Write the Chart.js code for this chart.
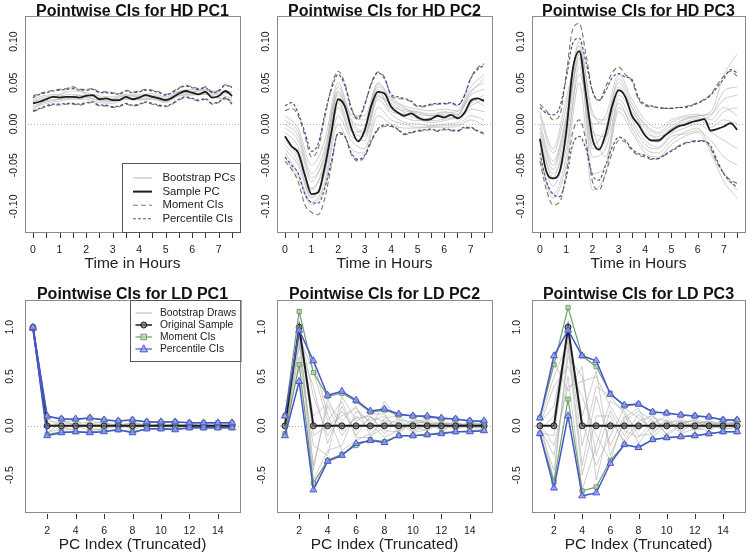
<!DOCTYPE html>
<html>
<head>
<meta charset="utf-8">
<script src="https://cdn.jsdelivr.net/npm/chart.js@4.4.1/dist/chart.umd.min.js"></script>
<style>
  html, body { margin: 0; padding: 0; background: #fff; }
  #wrap { position: relative; width: 750px; height: 557px; overflow: hidden; }
  #wrap canvas { position: absolute; }
</style>
</head>
<body>
<div id="wrap">
  <canvas id="c1" width="250" height="280" style="left:0;top:0"></canvas>
  <canvas id="c2" width="250" height="280" style="left:250px;top:0"></canvas>
  <canvas id="c3" width="250" height="280" style="left:500px;top:0"></canvas>
  <canvas id="c4" width="250" height="277" style="left:0;top:280px"></canvas>
  <canvas id="c5" width="250" height="277" style="left:250px;top:280px"></canvas>
  <canvas id="c6" width="250" height="277" style="left:500px;top:280px"></canvas>
</div>
<script>
// ===============================
// 1. data: HD panels (time in hours)
// ===============================
const HD_T = [0, 0.25, 0.5, 0.75, 1, 1.25, 1.5, 1.75, 2, 2.25, 2.5, 2.75, 3, 3.25, 3.5, 3.75,
  4, 4.25, 4.5, 4.75, 5, 5.25, 5.5, 5.75, 6, 6.25, 6.5, 6.75, 7, 7.25, 7.5];
const HD_T2 = [0, 0.5, 1, 1.5, 2, 2.5, 3, 3.5, 4, 4.5, 5, 5.5, 6, 6.5, 7, 7.5];
const HD_XTICKS = [0, 0.5, 1, 1.5, 2, 2.5, 3, 3.5, 4, 4.5, 5, 5.5, 6, 6.5, 7, 7.5];
const HD_XLABELS = [0, 1, 2, 3, 4, 5, 6, 7];
const HD_YTICKS = [-0.10, -0.05, 0, 0.05, 0.10];
const HD_YLABELS = ["-0.10", "-0.05", "0.00", "0.05", "0.10"];

// HD PC1
const hd1Sample = [0.025,0.027,0.030,0.033,0.032,0.033,0.033,0.032,0.034,0.035,0.030,0.031,0.029,0.029,0.033,0.030,
  0.032,0.035,0.033,0.031,0.029,0.032,0.037,0.040,0.038,0.036,0.039,0.032,0.034,0.040,0.034];
const hd1PctUp = [0.032,0.036,0.038,0.040,0.041,0.042,0.043,0.041,0.041,0.042,0.038,0.038,0.037,0.036,0.040,0.038,
  0.039,0.041,0.040,0.038,0.035,0.038,0.043,0.046,0.044,0.042,0.044,0.038,0.040,0.047,0.044];
const hd1PctLo = [0.016,0.019,0.022,0.024,0.024,0.025,0.025,0.024,0.026,0.027,0.023,0.023,0.021,0.022,0.025,0.023,
  0.024,0.027,0.025,0.023,0.022,0.025,0.030,0.033,0.031,0.029,0.031,0.025,0.027,0.032,0.025];
const hd1MomUp = [0.034,0.037,0.039,0.041,0.042,0.043,0.045,0.042,0.042,0.043,0.039,0.039,0.038,0.037,0.041,0.039,
  0.040,0.042,0.041,0.039,0.036,0.039,0.044,0.047,0.045,0.043,0.045,0.039,0.041,0.048,0.045];
const hd1MomLo = [0.015,0.018,0.021,0.023,0.023,0.024,0.024,0.023,0.025,0.026,0.022,0.022,0.020,0.021,0.024,0.022,
  0.023,0.026,0.024,0.022,0.021,0.024,0.029,0.032,0.030,0.028,0.030,0.024,0.026,0.031,0.024];
const hd1Boot = [
  [0.030,0.035,0.036,0.040,0.038,0.034,0.033,0.036,0.036,0.037,0.033,0.040,0.042,0.042,0.038,0.040],
  [0.020,0.025,0.028,0.030,0.030,0.026,0.025,0.030,0.029,0.030,0.026,0.034,0.035,0.036,0.031,0.030],
  [0.028,0.033,0.035,0.045,0.036,0.032,0.031,0.035,0.034,0.035,0.031,0.039,0.040,0.041,0.036,0.038],
  [0.022,0.027,0.030,0.031,0.032,0.028,0.027,0.031,0.030,0.031,0.027,0.035,0.036,0.037,0.032,0.028],
  [0.018,0.028,0.030,0.034,0.035,0.031,0.030,0.034,0.033,0.034,0.030,0.038,0.037,0.038,0.035,0.032],
  [0.027,0.031,0.034,0.036,0.033,0.029,0.028,0.032,0.031,0.032,0.028,0.036,0.039,0.040,0.040,0.036]
];

// HD PC2
const hd2Sample = [-0.015,-0.027,-0.035,-0.062,-0.085,-0.083,-0.052,-0.010,0.030,0.022,-0.005,-0.021,-0.008,0.022,0.039,0.037,
  0.021,0.014,0.010,0.013,0.008,0.005,0.006,0.010,0.008,0.011,0.007,0.013,0.028,0.031,0.028];
const hd2PctUp = [0.022,0.026,0.013,-0.010,-0.033,-0.024,0.012,0.042,0.060,0.047,0.018,0.007,0.024,0.048,0.062,0.055,
  0.036,0.033,0.031,0.028,0.022,0.022,0.024,0.025,0.025,0.026,0.023,0.033,0.055,0.066,0.071];
const hd2PctLo = [-0.040,-0.050,-0.060,-0.085,-0.095,-0.096,-0.078,-0.045,-0.012,-0.015,-0.035,-0.043,-0.038,-0.020,-0.006,-0.001,
  -0.002,-0.006,-0.012,-0.010,-0.008,-0.007,-0.006,-0.008,-0.006,-0.007,-0.008,-0.004,-0.004,-0.008,-0.011];
const hd2MomUp = [0.016,0.019,0.010,-0.014,-0.040,-0.030,0.008,0.045,0.064,0.050,0.020,0.005,0.022,0.050,0.063,0.057,
  0.034,0.031,0.030,0.027,0.021,0.021,0.023,0.024,0.024,0.025,0.022,0.034,0.056,0.068,0.073];
const hd2MomLo = [-0.045,-0.055,-0.070,-0.098,-0.107,-0.110,-0.090,-0.050,-0.010,-0.014,-0.037,-0.045,-0.040,-0.022,-0.007,-0.003,
  -0.003,-0.007,-0.013,-0.011,-0.009,-0.008,-0.007,-0.009,-0.007,-0.008,-0.009,-0.005,-0.005,-0.009,-0.012];
const hd2Boot = [
  [-0.005,-0.020,-0.070,-0.035,0.045,0.010,0.005,0.045,0.028,0.018,0.015,0.012,0.015,0.012,0.040,0.050],
  [-0.030,-0.050,-0.090,-0.060,0.020,-0.015,-0.020,0.030,0.012,0.002,0.000,-0.002,0.000,0.002,0.018,0.015],
  [0.005,-0.010,-0.060,-0.030,0.040,0.005,-0.002,0.048,0.030,0.020,0.012,0.010,0.014,0.015,0.045,0.060],
  [-0.035,-0.060,-0.095,-0.070,0.010,-0.020,-0.030,0.020,0.005,0.000,-0.004,-0.003,-0.002,-0.001,0.010,0.005],
  [-0.010,-0.028,-0.080,-0.045,0.035,0.000,-0.012,0.035,0.018,0.008,0.004,0.008,0.010,0.006,0.025,0.035],
  [-0.020,-0.040,-0.078,-0.050,0.028,-0.008,-0.015,0.033,0.025,0.014,0.010,0.004,0.006,0.010,0.030,0.022],
  [0.010,-0.005,-0.050,-0.020,0.050,0.012,0.010,0.050,0.032,0.022,0.018,0.016,0.018,0.016,0.038,0.055],
  [-0.040,-0.065,-0.098,-0.075,0.000,-0.030,-0.035,0.010,0.000,-0.005,-0.005,-0.004,-0.004,-0.003,0.005,-0.002],
  [-0.025,-0.045,-0.088,-0.058,0.025,-0.010,-0.005,0.042,0.015,0.012,0.006,0.002,0.004,0.009,0.022,0.030],
  [0.000,-0.015,-0.065,-0.040,0.038,0.004,-0.010,0.038,0.022,0.016,0.014,0.010,0.012,0.011,0.035,0.042]
];

// HD PC3
const hd3Sample = [-0.018,-0.058,-0.066,-0.058,-0.010,0.066,0.088,0.037,-0.018,-0.031,-0.012,0.022,0.041,0.033,0.010,-0.001,
  -0.014,-0.020,-0.020,-0.014,-0.008,-0.003,-0.001,0.002,0.004,0.006,-0.008,-0.006,-0.003,0.001,-0.007];
const hd3PctUp = [0.020,0.013,0.011,0.020,0.055,0.098,0.104,0.075,0.040,0.029,0.040,0.056,0.061,0.057,0.054,0.032,
  0.024,0.022,0.020,0.019,0.019,0.020,0.020,0.022,0.025,0.029,0.035,0.045,0.055,0.066,0.062];
const hd3PctLo = [-0.035,-0.070,-0.085,-0.088,-0.065,-0.025,-0.015,-0.030,-0.062,-0.068,-0.050,-0.028,-0.016,-0.020,-0.030,-0.036,
  -0.038,-0.042,-0.042,-0.037,-0.033,-0.028,-0.024,-0.022,-0.021,-0.021,-0.027,-0.045,-0.061,-0.070,-0.077];
const hd3MomUp = [0.024,0.016,0.005,0.010,0.060,0.115,0.122,0.085,0.040,0.028,0.045,0.062,0.069,0.060,0.052,0.030,
  0.022,0.021,0.020,0.019,0.019,0.020,0.021,0.023,0.026,0.030,0.036,0.048,0.058,0.064,0.058];
const hd3MomLo = [-0.045,-0.080,-0.098,-0.095,-0.060,-0.010,0.005,-0.020,-0.070,-0.080,-0.060,-0.035,-0.020,-0.022,-0.032,-0.038,
  -0.040,-0.043,-0.042,-0.038,-0.032,-0.027,-0.023,-0.021,-0.020,-0.020,-0.030,-0.048,-0.060,-0.068,-0.072];
const hd3Boot = [
  [0.000,-0.045,0.010,0.100,0.010,0.005,0.055,0.025,0.000,-0.010,0.002,0.008,0.010,0.015,0.060,0.085],
  [-0.040,-0.085,-0.040,0.070,-0.040,-0.030,0.025,-0.005,-0.030,-0.035,-0.020,-0.010,-0.005,-0.030,-0.060,-0.080],
  [-0.010,-0.055,0.000,0.080,-0.025,-0.005,0.050,0.020,-0.010,-0.015,-0.005,0.005,0.008,0.000,0.015,0.020],
  [-0.030,-0.075,-0.030,0.060,-0.005,-0.040,0.020,0.000,-0.025,-0.030,-0.015,-0.012,-0.008,-0.020,-0.040,-0.050],
  [0.010,-0.035,0.020,0.095,-0.030,-0.020,0.035,0.015,-0.005,-0.018,-0.010,0.000,0.005,0.010,0.040,0.045],
  [-0.025,-0.060,-0.020,0.085,-0.060,-0.050,0.030,0.005,-0.020,-0.028,-0.012,-0.005,0.000,-0.010,-0.020,-0.030],
  [-0.005,-0.050,0.005,0.075,0.000,0.010,0.060,0.030,0.005,-0.005,0.005,0.010,0.012,0.005,0.020,0.010],
  [-0.045,-0.090,-0.050,0.050,-0.080,-0.060,0.015,-0.010,-0.035,-0.040,-0.025,-0.015,-0.010,-0.035,-0.070,-0.090],
  [-0.015,-0.065,-0.005,0.090,-0.010,-0.015,0.045,0.012,-0.012,-0.022,-0.006,0.002,0.006,-0.004,0.005,0.000],
  [0.015,-0.030,0.030,0.090,0.015,0.000,0.040,0.020,-0.002,-0.012,-0.002,0.006,0.010,0.012,0.030,0.035]
];

// ===============================
// 2. data: LD panels (PC index)
// ===============================
const LD_X = [1, 2, 3, 4, 5, 6, 7, 8, 9, 10, 11, 12, 13, 14, 15];
const LD_XTICKS = [2, 4, 6, 8, 10, 12, 14];
const LD_YTICKS = [-0.5, 0, 0.5, 1.0];
const LD_YLABELS = ["-0.5", "0.0", "0.5", "1.0"];

const ld1Sample = [1, 0, 0, 0, 0, 0, 0, 0, 0, 0, 0, 0, 0, 0, 0];
const ld1PctUp = [1.00,0.10,0.07,0.07,0.08,0.06,0.05,0.06,0.04,0.04,0.04,0.03,0.03,0.03,0.03];
const ld1PctLo = [0.99,-0.10,-0.07,-0.06,-0.07,-0.06,-0.04,-0.07,-0.03,-0.03,-0.04,-0.02,-0.02,-0.02,-0.02];
const ld1MomUp = [1.00,0.09,0.07,0.06,0.08,0.06,0.05,0.06,0.04,0.04,0.04,0.03,0.03,0.03,0.03];
const ld1MomLo = [0.99,-0.09,-0.06,-0.06,-0.06,-0.05,-0.04,-0.06,-0.03,-0.03,-0.03,-0.02,-0.02,-0.02,-0.02];
const ld1Boot = [
  [1.00,0.05,0.03,0.02,-0.02,0.03,0.01,0.02,0.01,-0.01,0.02,0.01,0.00,0.01,0.00],
  [0.99,-0.06,-0.04,0.03,0.04,-0.03,0.02,-0.03,0.02,0.01,-0.02,0.00,0.01,-0.01,0.01],
  [1.00,0.08,-0.02,-0.04,0.05,0.02,-0.02,0.04,-0.01,0.02,0.01,-0.01,0.01,0.00,-0.01],
  [0.99,-0.03,0.05,0.01,-0.05,-0.02,0.03,-0.05,0.02,-0.02,0.00,0.01,-0.01,0.01,0.01],
  [1.00,0.02,-0.05,-0.03,0.02,0.04,-0.03,0.01,-0.02,0.02,-0.03,0.02,0.00,-0.01,0.00],
  [0.99,-0.08,0.04,0.05,-0.03,-0.04,0.01,0.03,0.01,-0.02,0.01,-0.01,0.01,0.00,-0.01]
];

const ld2Sample = [0, 1, 0, 0, 0, 0, 0, 0, 0, 0, 0, 0, 0, 0, 0];
const ld2PctUp = [0.10,0.97,0.66,0.31,0.35,0.26,0.15,0.17,0.12,0.10,0.10,0.08,0.07,0.05,0.05];
const ld2PctLo = [-0.10,0.45,-0.65,-0.36,-0.30,-0.18,-0.15,-0.17,-0.10,-0.10,-0.09,-0.08,-0.06,-0.06,-0.05];
const ld2MomUp = [0.10,1.16,0.54,0.30,0.33,0.25,0.14,0.16,0.11,0.10,0.09,0.07,0.07,0.05,0.04];
const ld2MomLo = [-0.08,0.62,-0.58,-0.35,-0.29,-0.20,-0.14,-0.16,-0.10,-0.10,-0.09,-0.07,-0.06,-0.05,-0.04];
const ld2Boot = [
  [0.05,0.98,0.30,-0.10,0.15,-0.05,0.08,0.05,-0.03,0.02,0.04,-0.02,0.02,0.01,0.00],
  [-0.05,0.95,-0.40,0.20,-0.10,0.10,-0.05,0.25,0.05,-0.05,0.02,0.03,-0.02,0.02,0.01],
  [0.02,0.90,0.55,0.05,0.25,-0.10,0.10,-0.08,0.06,0.04,-0.03,0.02,0.03,-0.01,0.02],
  [-0.08,0.85,-0.55,-0.25,-0.20,0.15,0.05,0.10,-0.05,0.03,0.05,-0.04,0.01,0.02,-0.01],
  [0.08,0.97,0.10,0.22,0.05,0.20,-0.10,-0.02,0.08,-0.06,0.00,0.04,-0.03,0.00,0.02],
  [0.00,0.70,-0.20,-0.30,0.30,0.05,0.12,0.12,-0.08,0.05,0.06,0.01,0.04,-0.02,-0.02],
  [-0.03,0.60,0.65,0.12,-0.25,-0.15,-0.08,0.06,0.03,-0.07,-0.04,0.05,0.00,0.03,0.01],
  [0.06,0.99,-0.10,0.00,0.10,0.18,0.02,-0.12,-0.04,0.07,0.03,-0.05,0.02,-0.03,0.00],
  [-0.06,0.80,0.40,-0.18,0.20,-0.12,-0.12,0.08,0.10,0.00,-0.05,0.02,-0.04,0.03,0.02],
  [0.04,0.92,-0.45,0.28,-0.05,0.08,0.10,-0.05,-0.06,0.05,0.02,0.00,0.03,0.00,-0.02]
];

const ld3Sample = [0, 0, 1, 0, 0, 0, 0, 0, 0, 0, 0, 0, 0, 0, 0];
const ld3PctUp = [0.08,0.71,0.97,0.71,0.66,0.32,0.21,0.22,0.14,0.13,0.11,0.10,0.09,0.06,0.06];
const ld3PctLo = [-0.08,-0.63,0.10,-0.71,-0.68,-0.38,-0.19,-0.22,-0.14,-0.12,-0.11,-0.10,-0.08,-0.06,-0.06];
const ld3MomUp = [0.08,0.62,1.20,0.71,0.60,0.33,0.20,0.22,0.14,0.13,0.11,0.10,0.09,0.06,0.06];
const ld3MomLo = [-0.08,-0.57,0.27,-0.66,-0.62,-0.35,-0.19,-0.22,-0.14,-0.12,-0.11,-0.10,-0.08,-0.06,-0.06];
const ld3Boot = [
  [0.05,0.50,0.85,-0.40,0.30,-0.20,0.10,-0.05,0.08,0.05,-0.03,0.04,0.02,-0.02,0.01],
  [-0.05,-0.45,0.70,0.50,-0.30,0.15,-0.10,0.12,-0.06,0.03,0.05,-0.04,0.03,0.02,-0.02],
  [0.03,0.20,0.95,0.10,0.55,-0.30,0.05,0.15,0.05,-0.08,0.02,0.06,-0.03,0.03,0.02],
  [-0.02,-0.30,0.50,-0.65,-0.20,0.25,0.15,-0.10,-0.08,0.06,-0.05,0.02,0.05,-0.01,0.00],
  [0.07,0.65,0.35,0.60,-0.55,0.05,-0.15,0.05,0.10,-0.04,0.06,-0.05,0.00,0.04,0.03],
  [-0.07,-0.10,0.90,-0.20,0.40,0.30,0.12,-0.18,0.02,0.10,-0.06,0.03,0.04,-0.03,-0.02],
  [0.01,0.40,0.60,0.30,-0.10,-0.35,0.08,0.18,-0.12,0.02,0.08,-0.02,-0.05,0.02,0.03],
  [0.04,-0.55,0.80,-0.50,0.10,0.10,-0.18,0.00,0.12,-0.10,0.00,0.07,0.02,-0.04,-0.01],
  [-0.04,0.10,0.99,0.05,-0.40,-0.10,0.18,0.08,-0.04,0.06,-0.08,-0.03,0.05,0.02,0.01],
  [0.02,-0.20,0.40,0.45,0.50,0.20,-0.05,-0.12,0.05,-0.02,0.04,0.05,-0.02,-0.01,0.04]
];

// ===============================
// 3. styles
// ===============================
const FONT = '"Liberation Sans", Arial, Helvetica, sans-serif';
const GRAY = "rgba(165,165,165,0.55)";
const BLACK = "#1c1c1c";
const HD_MOM = "rgba(95,115,70,0.9)";
const HD_PCT = "rgba(55,65,150,0.9)";
const LD_BLUE = "rgb(70,85,205)";
const LD_BLUE_FILL = "rgba(150,160,245,0.75)";
const LD_GREEN = "rgb(110,160,100)";
const LD_GREEN_FILL = "rgba(175,215,165,0.7)";

function pts(xs, ys) {
  return xs.map((x, i) => ({ x, y: ys[i] }));
}

function hdSets(boot, sample, momUp, momLo, pctUp, pctLo) {
  const line = (data, color, width, dash, order) => ({
    data, borderColor: color, borderWidth: width, borderDash: dash,
    pointRadius: 0, cubicInterpolationMode: "monotone", fill: false, order
  });
  const sets = [];
  sets.push(line(pts(HD_T, pctUp), HD_PCT, 1.2, [3, 2], 0));
  sets.push(line(pts(HD_T, pctLo), HD_PCT, 1.2, [3, 2], 0));
  sets.push(line(pts(HD_T, momUp), HD_MOM, 1.1, [5, 3], 1));
  sets.push(line(pts(HD_T, momLo), HD_MOM, 1.1, [5, 3], 1));
  sets.push(line(pts(HD_T, sample), BLACK, 1.8, [], 2));
  boot.forEach(b => sets.push(line(pts(HD_T2, b), GRAY, 1, [], 3)));
  return sets;
}

function ldSets(boot, sample, momUp, momLo, pctUp, pctLo) {
  const line = (data, color, width, style, fillc, radius, order) => ({
    data, borderColor: color, borderWidth: width, tension: 0, fill: false, order,
    pointStyle: style, pointRadius: radius, pointBorderColor: color,
    pointBackgroundColor: fillc, pointBorderWidth: 1
  });
  const sets = [];
  sets.push(line(pts(LD_X, pctUp), LD_BLUE, 1.5, "triangle", LD_BLUE_FILL, 4, 0));
  sets.push(line(pts(LD_X, pctLo), LD_BLUE, 1.5, "triangle", LD_BLUE_FILL, 4, 0));
  sets.push(line(pts(LD_X, momUp), LD_GREEN, 1.2, "rect", LD_GREEN_FILL, 3, 1));
  sets.push(line(pts(LD_X, momLo), LD_GREEN, 1.2, "rect", LD_GREEN_FILL, 3, 1));
  sets.push(line(pts(LD_X, sample), BLACK, 2, "circle", "rgba(110,110,110,0.7)", 3, 2));
  boot.forEach(b => sets.push(line(pts(LD_X, b), GRAY, 1, "circle", GRAY, 0, 3)));
  return sets;
}

// ===============================
// 4. R-style frame plugin
// ===============================
function drawMarker(ctx, style, x, y, r) {
  ctx.beginPath();
  if (style === "circle") ctx.arc(x, y, r, 0, Math.PI * 2);
  else if (style === "rect") ctx.rect(x - r, y - r, 2 * r, 2 * r);
  else if (style === "triangle") {
    ctx.moveTo(x, y - r * 1.1);
    ctx.lineTo(x + r, y + r * 0.75);
    ctx.lineTo(x - r, y + r * 0.75);
    ctx.closePath();
  }
  ctx.fill();
  ctx.stroke();
}

function drawLegend(ctx, a, lg) {
  const x0 = a.right - lg.w;
  const y0 = lg.alignTop ? a.top : a.bottom - lg.h;
  ctx.save();
  ctx.fillStyle = "#fff";
  ctx.fillRect(x0, y0, lg.w, lg.h);
  ctx.strokeStyle = "#555";
  ctx.lineWidth = 1;
  ctx.strokeRect(Math.round(x0) + 0.5, Math.round(y0) + 0.5, lg.w, lg.h);
  lg.items.forEach((it, i) => {
    const yy = y0 + lg.first + i * lg.step;
    ctx.strokeStyle = it.color;
    ctx.lineWidth = it.width;
    ctx.setLineDash(it.dash || []);
    ctx.beginPath();
    ctx.moveTo(x0 + lg.lx0, yy);
    ctx.lineTo(x0 + lg.lx1, yy);
    ctx.stroke();
    ctx.setLineDash([]);
    if (it.marker) {
      ctx.lineWidth = 1;
      ctx.fillStyle = it.fill;
      drawMarker(ctx, it.marker, x0 + (lg.lx0 + lg.lx1) / 2, yy, it.r);
    }
    ctx.fillStyle = "#222";
    ctx.font = lg.font + "px " + FONT;
    ctx.textBaseline = "middle";
    ctx.textAlign = "left";
    ctx.fillText(it.text, x0 + lg.tx, yy);
  });
  ctx.restore();
}

const rFrame = {
  id: "rFrame",
  beforeDatasetsDraw(chart, args, o) {
    const { ctx, chartArea: a, scales: { y } } = chart;
    ctx.save();
    ctx.strokeStyle = "#b5b5b5";
    ctx.lineWidth = 1;
    ctx.setLineDash([1, 2]);
    const y0 = Math.round(y.getPixelForValue(0)) + 0.5;
    ctx.beginPath();
    ctx.moveTo(a.left, y0);
    ctx.lineTo(a.right, y0);
    ctx.stroke();
    ctx.restore();
  },
  afterDraw(chart, args, o) {
    const { ctx, chartArea: a, scales: { x, y } } = chart;
    ctx.save();
    // box
    ctx.strokeStyle = "#8a8a8a";
    ctx.lineWidth = 1;
    ctx.strokeRect(Math.round(a.left) + 0.5, Math.round(a.top) + 0.5,
      Math.round(a.right - a.left), Math.round(a.bottom - a.top));

    // x ticks
    ctx.strokeStyle = "#333";
    ctx.beginPath();
    o.xTicks.forEach(v => {
      const px = Math.round(x.getPixelForValue(v)) + 0.5;
      ctx.moveTo(px, a.bottom + o.tickGap);
      ctx.lineTo(px, a.bottom + o.tickGap + 5);
    });
    ctx.stroke();

    ctx.fillStyle = "#222";
    ctx.font = o.tickFont + "px " + FONT;
    ctx.textAlign = "center";
    ctx.textBaseline = "middle";
    o.xLabels.forEach(v => {
      ctx.fillText(String(v), x.getPixelForValue(v), o.xLabelY);
    });

    // y labels, rotated like R
    o.yTicks.forEach((v, i) => {
      ctx.save();
      ctx.translate(a.left - o.yLabelOff, y.getPixelForValue(v));
      ctx.rotate(-Math.PI / 2);
      ctx.fillText(o.yLabels[i], 0, 0);
      ctx.restore();
    });

    // axis title
    ctx.font = "15.5px " + FONT;
    ctx.textBaseline = "alphabetic";
    ctx.fillText(o.xTitle, (a.left + a.right) / 2, o.xTitleY);

    // main title
    ctx.font = "bold 16px " + FONT;
    ctx.fillStyle = "#111";
    ctx.fillText(o.title, (a.left + a.right) / 2, o.titleY);
    ctx.restore();

    if (o.legend) drawLegend(ctx, a, o.legend);
  }
};

// ===============================
// 5. legends
// ===============================
const HD_LEGEND = {
  alignTop: false, w: 118, h: 69, first: 15, step: 13.6, lx0: 11, lx1: 30, tx: 40.5, font: 11.3,
  items: [
    { text: "Bootstrap PCs", color: "rgba(175,175,175,0.9)", width: 1 },
    { text: "Sample PC", color: BLACK, width: 2 },
    { text: "Moment CIs", color: HD_MOM, width: 1.1, dash: [5, 3] },
    { text: "Percentile CIs", color: HD_PCT, width: 1.1, dash: [3, 2] }
  ]
};

const LD_LEGEND = {
  alignTop: true, w: 110.5, h: 61, first: 13, step: 12, lx0: 6, lx1: 22.5, tx: 30.5, font: 10.3,
  items: [
    { text: "Bootstrap Draws", color: "rgba(175,175,175,0.9)", width: 1 },
    { text: "Original Sample", color: BLACK, width: 1.5, marker: "circle", fill: "rgba(110,110,110,0.7)", r: 3 },
    { text: "Moment CIs", color: LD_GREEN, width: 1.2, marker: "rect", fill: LD_GREEN_FILL, r: 2.8 },
    { text: "Percentile CIs", color: LD_BLUE, width: 1.2, marker: "triangle", fill: LD_BLUE_FILL, r: 3.8 }
  ]
};

// ===============================
// 6. build the six panels
// ===============================
const HD_FRAME = {
  xTicks: HD_XTICKS, xLabels: HD_XLABELS, yTicks: HD_YTICKS, yLabels: HD_YLABELS,
  xTitle: "Time in Hours", tickGap: 1, tickFont: 10.5, xLabelY: 250, xTitleY: 268, yLabelOff: 11, titleY: 16
};
const LD_FRAME = {
  xTicks: LD_XTICKS, xLabels: LD_XTICKS, yTicks: LD_YTICKS, yLabels: LD_YLABELS,
  xTitle: "PC Index (Truncated)", tickGap: 2, tickFont: 10.5, xLabelY: 251.5, xTitleY: 269, yLabelOff: 15, titleY: 18.5
};

const panels = [
  { id: "c1", frame: HD_FRAME, title: "Pointwise CIs for HD PC1", pad: { left: 25, right: 10, top: 16, bottom: 48 },
    xr: [-0.3, 7.8], yr: [-0.131, 0.131], sets: hdSets(hd1Boot, hd1Sample, hd1MomUp, hd1MomLo, hd1PctUp, hd1PctLo), legend: HD_LEGEND },
  { id: "c2", frame: HD_FRAME, title: "Pointwise CIs for HD PC2", pad: { left: 27, right: 8, top: 16, bottom: 48 },
    xr: [-0.3, 7.8], yr: [-0.131, 0.131], sets: hdSets(hd2Boot, hd2Sample, hd2MomUp, hd2MomLo, hd2PctUp, hd2PctLo) },
  { id: "c3", frame: HD_FRAME, title: "Pointwise CIs for HD PC3", pad: { left: 32, right: 5, top: 16, bottom: 48 },
    xr: [-0.3, 7.8], yr: [-0.131, 0.131], sets: hdSets(hd3Boot, hd3Sample, hd3MomUp, hd3MomLo, hd3PctUp, hd3PctLo) },
  { id: "c4", frame: LD_FRAME, title: "Pointwise CIs for LD PC1", pad: { left: 25, right: 10, top: 20, bottom: 45 },
    xr: [0.44, 15.56], yr: [-0.874, 1.276], sets: ldSets(ld1Boot, ld1Sample, ld1MomUp, ld1MomLo, ld1PctUp, ld1PctLo), legend: LD_LEGEND },
  { id: "c5", frame: LD_FRAME, title: "Pointwise CIs for LD PC2", pad: { left: 27, right: 8, top: 20, bottom: 45 },
    xr: [0.44, 15.56], yr: [-0.874, 1.276], sets: ldSets(ld2Boot, ld2Sample, ld2MomUp, ld2MomLo, ld2PctUp, ld2PctLo) },
  { id: "c6", frame: LD_FRAME, title: "Pointwise CIs for LD PC3", pad: { left: 32, right: 5, top: 20, bottom: 45 },
    xr: [0.44, 15.56], yr: [-0.874, 1.276], sets: ldSets(ld3Boot, ld3Sample, ld3MomUp, ld3MomLo, ld3PctUp, ld3PctLo) }
];

panels.forEach(p => {
  new Chart(document.getElementById(p.id).getContext("2d"), {
    type: "line",
    data: { datasets: p.sets },
    options: {
      responsive: false,
      animation: false,
      devicePixelRatio: 1,
      layout: { padding: p.pad },
      scales: {
        x: { type: "linear", min: p.xr[0], max: p.xr[1], display: false },
        y: { type: "linear", min: p.yr[0], max: p.yr[1], display: false }
      },
      plugins: {
        legend: { display: false },
        tooltip: { enabled: false },
        rFrame: Object.assign({}, p.frame, { title: p.title, legend: p.legend })
      }
    },
    plugins: [rFrame]
  });
});
</script>
</body>
</html>
